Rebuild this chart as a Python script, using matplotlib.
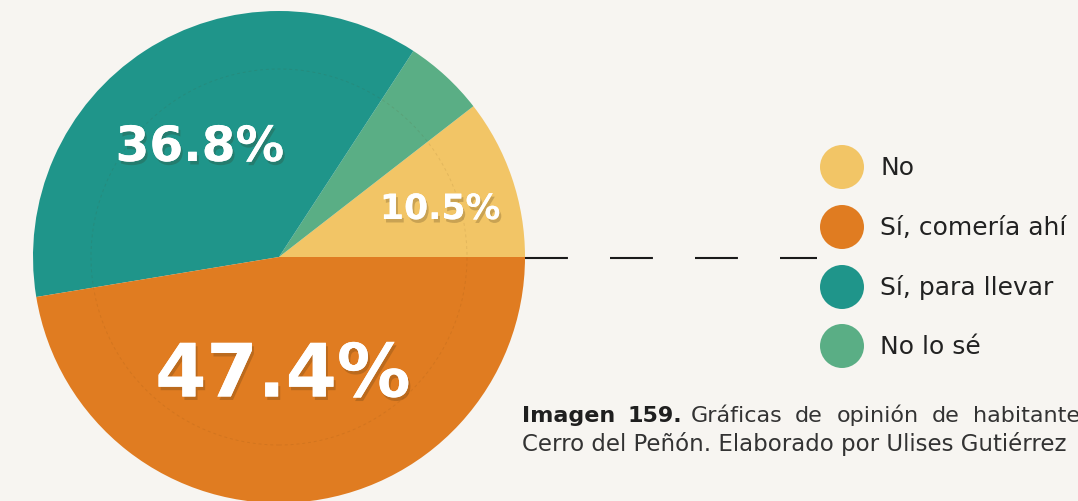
import matplotlib.pyplot as plt
import matplotlib.patheffects as pe

# survey answers, in pie order (counter-clockwise from 3 o'clock)
answers = ["No", "No lo sé", "Sí, para llevar", "Sí, comería ahí"]
shares = [10.5, 5.3, 36.8, 47.4]
colors = ["#f2c566", "#5aae85", "#1f958a", "#e07c21"]

# legend order as listed beside the pie
legend_order = ["No", "Sí, comería ahí", "Sí, para llevar", "No lo sé"]

caption_bold = ["Imagen", "159."]
caption_line1 = ["Gráficas", "de", "opinión", "de", "habitantes"]
caption_line2 = "Cerro del Peñón. Elaborado por Ulises Gutiérrez"

W, H = 1078, 502
BG = "#f7f5f1"
plt.rcParams['font.family'] = ['DejaVu Sans']

fig = plt.figure(figsize=(W / 100, H / 100), dpi=100, facecolor=BG)
ax = fig.add_axes([0, 0, 1, 1])
ax.set_facecolor(BG)

cx, cy, r = 279, H - 258, 246
ax.pie(shares, colors=colors, startangle=0, counterclock=True,
       center=(cx, cy), radius=r, wedgeprops=dict(linewidth=0))

# faint printed ring inside the pie
ring = plt.Circle((cx, cy), 188, fill=False, color="#5a3a10", lw=0.7,
                  alpha=0.10, linestyle=(0, (3, 3)))
ax.add_patch(ring)

shadow = [pe.withSimplePatchShadow(offset=(1.5, -2.5), shadow_rgbFace="#3a2a10", alpha=0.22),
          pe.Normal()]
# percentage labels: (share index, x, y, size in pt)
label_spots = [(2, 200, 148, 35), (3, 283, 377, 53), (0, 440, 210, 25)]
for i, x, y, size in label_spots:
    ax.text(x, H - y, f"{shares[i]:.1f}%", color="white", fontsize=size,
            fontweight="bold", ha="center", va="center", path_effects=shadow)

# dashed leader line from the pie edge to the legend
ax.plot([525, 817], [H - 259, H - 259], color="#1a1a1a", lw=1.5,
        linestyle=(0, (20.6, 20.2)), solid_capstyle="butt", dash_capstyle="butt")

# legend dots and labels
legend_y = [168, 228, 288, 347]
for name, y in zip(legend_order, legend_y):
    c = colors[answers.index(name)]
    ax.scatter([842], [H - y], s=(22 * 0.72 * 2) ** 2, color=c, edgecolors="none")
    ax.text(880, H - y, name, fontsize=18, color="#222222", ha="left", va="center")

# caption, first line justified word by word
for wd, x in zip(caption_bold, [522, 627]):
    ax.text(x, H - 422, wd, fontsize=16, fontweight="bold",
            color="#1f1f1f", ha="left", va="baseline")
word_x = [691, 795, 837, 932, 973]
for wd, x in zip(caption_line1, word_x):
    ax.text(x, H - 422, wd, fontsize=16, color="#333333", ha="left", va="baseline")
ax.text(522, H - 451, caption_line2, fontsize=16.5, color="#333333",
        ha="left", va="baseline")

ax.set_xlim(0, W)
ax.set_ylim(0, H)
ax.set_aspect("equal")
ax.axis("off")

fig.savefig("out.png", dpi=100, facecolor=BG)
